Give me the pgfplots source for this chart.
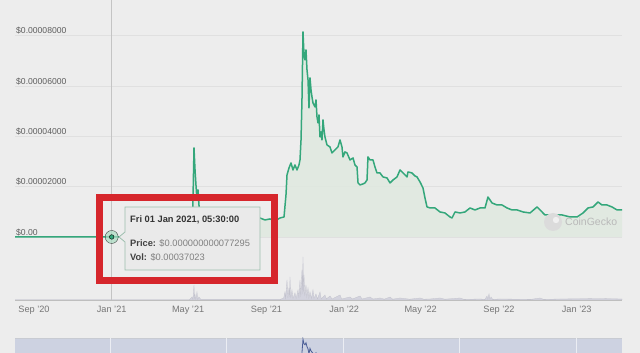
\documentclass[border=0pt]{standalone}
\usepackage{fontspec}
\setmainfont{Liberation Sans}
\usepackage{pgfplots}
\usepackage{pgfplotstable}
\pgfplotsset{compat=1.18}
\definecolor{bg}{HTML}{EDEDED}
\definecolor{linec}{HTML}{34A77B}
\definecolor{fillc}{HTML}{DFE9DF}
\definecolor{haloc}{HTML}{A9DCC2}
\definecolor{gridc}{HTML}{E0E0E0}
\definecolor{volc}{HTML}{D3D3DE}
\definecolor{navbg}{HTML}{CDD2E1}
\definecolor{navline}{HTML}{4B5E96}
\definecolor{redc}{HTML}{D6262C}
\definecolor{tipbd}{HTML}{9DBFAE}
\definecolor{tipbg}{HTML}{EAEAEA}
\definecolor{crossc}{HTML}{C4C4C4}
\definecolor{labc}{HTML}{5E5E5E}

% days since 2020-09-01, price in units of 1e-5 USD
\pgfplotstableread{
d v
-29.8 0
122.0 0
244.9 0
248.0 0.040
249.6 1.471
251.2 3.539
252.8 2.664
254.3 2.068
255.9 1.471
257.5 1.869
259.0 1.272
260.6 0.875
268.5 0.676
284.2 0.596
307.7 0.596
331.2 0.636
354.8 0.755
362.6 0.676
370.5 0.716
378.3 0.636
386.2 0.755
392.5 0.795
395.6 1.670
397.2 2.465
400.3 2.743
403.5 2.942
406.6 2.664
409.7 2.863
412.9 2.664
416.0 2.863
417.6 3.062
419.2 3.857
420.7 5.447
422.3 8.151
423.9 7.236
425.4 7.038
427.0 7.435
428.6 6.640
430.2 6.242
431.7 5.129
433.3 6.322
434.9 5.845
436.4 5.566
438.0 5.328
441.1 5.169
442.7 5.447
444.3 4.771
445.9 4.533
447.4 4.851
449.0 3.976
450.6 4.175
452.1 3.857
453.7 4.652
455.3 4.254
456.8 3.976
460.0 3.658
464.7 3.578
467.8 3.340
472.5 3.459
475.7 3.539
477.2 3.578
480.4 3.857
483.5 3.578
485.1 3.181
488.2 3.380
491.4 3.340
496.1 3.062
500.8 3.141
503.9 2.863
507.1 2.783
508.7 2.147
511.8 2.068
516.5 2.107
519.6 2.147
522.8 2.266
524.3 3.181
527.5 3.062
532.2 3.062
535.3 2.783
538.5 2.545
543.2 2.545
547.9 2.386
554.2 2.346
558.9 2.147
563.6 2.266
569.9 2.386
574.6 2.664
579.3 2.545
585.6 2.386
587.1 2.584
593.4 2.545
598.1 2.425
601.3 2.386
606.0 2.187
610.7 1.948
613.8 1.551
617.0 1.193
621.7 1.153
629.5 1.153
637.4 0.994
645.2 0.954
653.1 0.795
656.2 0.755
660.9 0.994
668.8 0.954
676.6 0.994
684.5 1.153
692.3 1.074
700.2 1.153
708.0 1.153
712.7 1.590
719.0 1.352
726.9 1.272
734.7 1.272
742.6 1.153
750.4 1.074
758.3 1.074
767.7 0.994
778.7 0.954
789.7 1.193
794.4 1.074
802.2 0.875
814.8 0.875
828.9 0.875
841.5 0.795
852.5 0.795
861.9 0.954
869.7 1.153
877.6 1.193
885.4 1.392
891.7 1.272
899.5 1.272
907.4 1.193
915.3 1.074
923.1 1.074
}\price

% volume, relative units
\pgfplotstableread{
d vol
-29.8 0.3
244 0.3
248 3
249.5 0.5
251.2 15
252 1
252.8 5
254 0.5
255.9 8
257 0.5
259 3
262 0.5
386 0.5
392 2
394 8
395 1
397.2 20
398.5 2
400.3 12
401.2 3
401.9 23
403 2
405 10
406.5 1.5
409.7 7
411.5 1.5
414.5 10
415.8 2
417.6 20
418.8 3
420.7 30
421.5 6
422.3 43
423.2 8
423.9 25
425 4
427 15
428.2 3
430.2 12
431.5 2
433.3 8
435.5 1.5
438 10
439.5 1.5
442.7 6
445 1
449 8
451 1
456.8 5
459 1
464.7 4
468 1
480.4 5
483 1
496.1 3
500 1
511.8 4
515 1
527.5 3
532 1
543.2 2
550 0.8
558.9 3
563 0.8
574.6 2
590 0.8
606 2
612 0.8
621.7 1
637.4 2
645 0.8
668.8 2
675 0.6
700.2 1
708 0.6
711.2 4
712.5 0.8
714.3 6
715.8 0.8
717.5 3
720 0.6
731.6 1
780 0.6
794.4 2
800 0.6
825.8 1
888.6 1.5
923.1 1
}\volume

\begin{document}
\begin{tikzpicture}[x=1pt,y=1pt]
\clip (0,0) rectangle (640,353);
\fill[bg] (0,0) rectangle (640,353);

% navigator band
\fill[navbg] (15,0) rectangle (622,15);
\draw[navbg!80!black!60, line width=0.5pt] (15,15) -- (622,15);
\foreach \xx in {110,226,343,459,576} \draw[white!60!navbg, line width=0.6pt] (\xx,0) -- (\xx,15);
\begin{axis}[at={(15pt,-27pt)}, anchor=south west, scale only axis,
  width=607pt, height=42pt, xmin=-29.8, xmax=923.1, ymin=0, ymax=8.4,
  axis lines=none, clip=true]
\addplot[navline, line width=0.8pt] table[x=d,y=v] {\price};
\end{axis}

% volume
\begin{axis}[at={(15pt,53pt)}, anchor=south west, scale only axis,
  width=607pt, height=295pt, xmin=-29.8, xmax=923.1, ymin=0, ymax=295,
  axis lines=none, clip=true]
\addplot[fill=volc, draw=volc!92!black, line width=0.3pt] table[x=d,y=vol] {\volume} \closedcycle;
\end{axis}

% price
\begin{axis}[at={(15pt,53pt)}, anchor=south west, scale only axis,
  width=607pt, height=295pt, xmin=-29.8, xmax=923.1, ymin=-2.505, ymax=9.22,
  clip=false,
  axis x line*=bottom, axis y line*=left,
  x axis line style={draw=gridc!85!black, line width=0.6pt},
  y axis line style={draw=none},
  major tick length=0pt,
  ymajorgrids, grid style={gridc, line width=0.6pt},
  xtick={0,122,242,365,487,607,730,852},
  xticklabels={Sep '20,Jan '21,May '21,Sep '21,Jan '22,May '22,Sep '22,Jan '23},
  ytick={0,2,4,6,8},
  yticklabels={\$0.00,\$0.00002000,\$0.00004000,\$0.00006000,\$0.00008000},
  yticklabel style={anchor=south west, inner sep=0pt, xshift=1pt, yshift=1pt,
    font=\fontsize{8.6}{10}\selectfont, text=labc},
  xticklabel style={font=\fontsize{9.2}{11}\selectfont, text=labc!85!white, yshift=-3pt},
]
\draw[crossc, line width=0.8pt] (axis cs:122,-2.505) -- (axis cs:122,9.5);
\addplot[draw=none, fill=fillc, fill opacity=0.8] table[x=d,y=v] {\price} \closedcycle;
\addplot[linec, line width=1.5pt, line join=round] table[x=d,y=v] {\price};
\addplot[only marks, mark=*, mark size=6.5pt, mark options={fill=haloc, draw=none, opacity=0.7}] coordinates {(122,0)};
\addplot[only marks, mark=*, mark size=2.3pt, mark options={fill=linec, draw=none}] coordinates {(122,0)};
\end{axis}

% CoinGecko watermark
\fill[gray!28] (553,131) circle (9);
\fill[gray!12] (556,133) circle (3.2);
\node[anchor=west, inner sep=0pt, text=gray!55, font=\fontsize{10.5}{12}\selectfont] at (565,131) {CoinGecko};

% tooltip
\filldraw[fill=tipbg, draw=tipbd, line width=0.8pt] (125,146) -- (260,146) -- (260,83) -- (125,83) -- (125,111) -- (119,116) -- (125,121) -- cycle;
\node[anchor=west, inner sep=0pt, font=\bfseries\fontsize{9.3}{11}\selectfont, text=black!80] at (130,133) {Fri 01 Jan 2021, 05:30:00};
\node[anchor=west, inner sep=0pt, font=\fontsize{9.3}{11}\selectfont, text=black!50] at (130,110) {\textbf{\color{black!75}Price:} \$0.000000000077295};
\node[anchor=west, inner sep=0pt, font=\fontsize{9.3}{11}\selectfont, text=black!50] at (130,96) {\textbf{\color{black!75}Vol:} \$0.00037023};

% red highlight box
\draw[redc, line width=7pt] (99.5,155.5) rectangle (274.5,72.5);
\end{tikzpicture}
\end{document}
